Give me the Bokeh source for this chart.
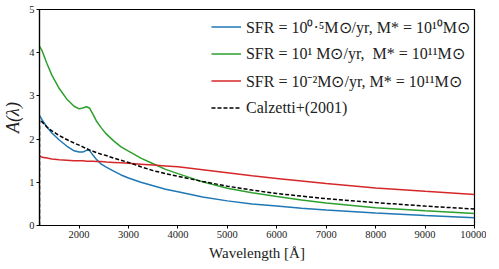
from bokeh.plotting import figure
from bokeh.models import Legend, LegendItem, FixedTicker, Range1d
from bokeh.embed import file_html
from bokeh.resources import INLINE

wave = [1200, 1250, 1350, 1450, 1600, 1750, 1900, 2000, 2075, 2150, 2210, 2280,
        2350, 2450, 2550, 2700, 2850, 3000, 3250, 3500, 3750, 4000, 4500, 5000,
        5500, 6000, 6500, 7000, 8000, 9000, 10000]

a_blue = [2.55, 2.45, 2.28, 2.14, 1.98, 1.84, 1.73, 1.70, 1.70, 1.74, 1.74, 1.63,
          1.53, 1.42, 1.35, 1.26, 1.17, 1.10, 1.00, 0.92, 0.84, 0.78, 0.66, 0.57,
          0.50, 0.45, 0.40, 0.36, 0.29, 0.23, 0.18]
a_green = [4.15, 4.05, 3.75, 3.48, 3.17, 2.93, 2.76, 2.70, 2.72, 2.75, 2.72, 2.58,
           2.42, 2.26, 2.12, 1.96, 1.82, 1.72, 1.56, 1.43, 1.30, 1.20, 1.01, 0.86,
           0.76, 0.67, 0.59, 0.52, 0.41, 0.34, 0.28]
a_red = [1.62, 1.58, 1.56, 1.54, 1.52, 1.51, 1.50, 1.50, 1.50, 1.49, 1.49, 1.49,
         1.48, 1.48, 1.47, 1.46, 1.45, 1.44, 1.42, 1.40, 1.38, 1.36, 1.29, 1.22,
         1.15, 1.09, 1.03, 0.97, 0.87, 0.79, 0.72]
wave_calz = [1200] + wave
a_calz = [0.0, 2.45, 2.40, 2.28, 2.19, 2.08, 1.99, 1.91, 1.86, 1.82, 1.78, 1.75, 1.72,
          1.69, 1.65, 1.62, 1.56, 1.51, 1.46, 1.36, 1.27, 1.20, 1.14, 1.02, 0.91,
          0.82, 0.74, 0.68, 0.62, 0.53, 0.45, 0.38]

labels = ["SFR = 10⁰·⁵M⊙/yr, M* = 10¹⁰M⊙",
          "SFR = 10¹ M⊙/yr,  M* = 10¹¹M⊙",
          "SFR = 10⁻²M⊙/yr, M* = 10¹¹M⊙",
          "Calzetti+(2001)"]
x_ticks = [2000, 3000, 4000, 5000, 6000, 7000, 8000, 9000, 10000]
y_ticks = [0, 1, 2, 3, 4, 5]

FONT = "Liberation Serif"

p = figure(frame_width=435, frame_height=216, output_backend="svg", toolbar_location=None,
           x_range=Range1d(1200, 10000), y_range=Range1d(0, 5),
           min_border_left=36, min_border_right=12, min_border_top=9, min_border_bottom=30)
p.grid.visible = False
p.outline_line_color = "black"
p.outline_line_width = 1.2

r1 = p.line(wave, a_blue, line_color="#1f77b4", line_width=1.5)
r2 = p.line(wave, a_green, line_color="#2ca02c", line_width=1.5)
r3 = p.line(wave, a_red, line_color="#d62728", line_width=1.5)
r4 = p.line(wave_calz, a_calz, line_color="black", line_width=1.5, line_dash="4 2")

for ax in (p.xaxis[0], p.yaxis[0]):
    ax.major_label_text_font = FONT
    ax.major_label_text_font_size = "10.5px"
    ax.major_label_text_color = "#222222"
    ax.minor_tick_line_color = None
    ax.major_tick_in = 0
    ax.major_tick_out = 3
    ax.major_label_standoff = 2
    ax.axis_line_color = "black"
    ax.axis_line_width = 1.2
    ax.axis_label_text_font = FONT
    ax.axis_label_text_color = "#222222"

p.xaxis.ticker = FixedTicker(ticks=x_ticks)
p.yaxis.ticker = FixedTicker(ticks=y_ticks)
p.xaxis.axis_label = "Wavelength [Å]"
p.xaxis.axis_label_text_font_size = "15px"
p.xaxis.axis_label_text_font_style = "normal"
p.xaxis.axis_label_standoff = 4
p.yaxis.axis_label = "A(λ)"
p.yaxis.axis_label_text_font_size = "18px"
p.yaxis.axis_label_text_font_style = "italic"
p.yaxis.axis_label_standoff = 3

legend = Legend(items=[LegendItem(label=labels[0], renderers=[r1]),
                       LegendItem(label=labels[1], renderers=[r2]),
                       LegendItem(label=labels[2], renderers=[r3]),
                       LegendItem(label=labels[3], renderers=[r4])],
                location="top_right")
legend.border_line_color = None
legend.background_fill_alpha = 0
legend.label_text_font = FONT
legend.label_text_font_size = "16px"
legend.label_text_color = "#222222"
legend.glyph_width = 30
legend.glyph_height = 27
legend.label_height = 27
legend.spacing = -3
legend.label_standoff = 5
legend.padding = 10
legend.margin = 4
p.add_layout(legend)

open("out.html", "w").write(file_html(p, INLINE))
